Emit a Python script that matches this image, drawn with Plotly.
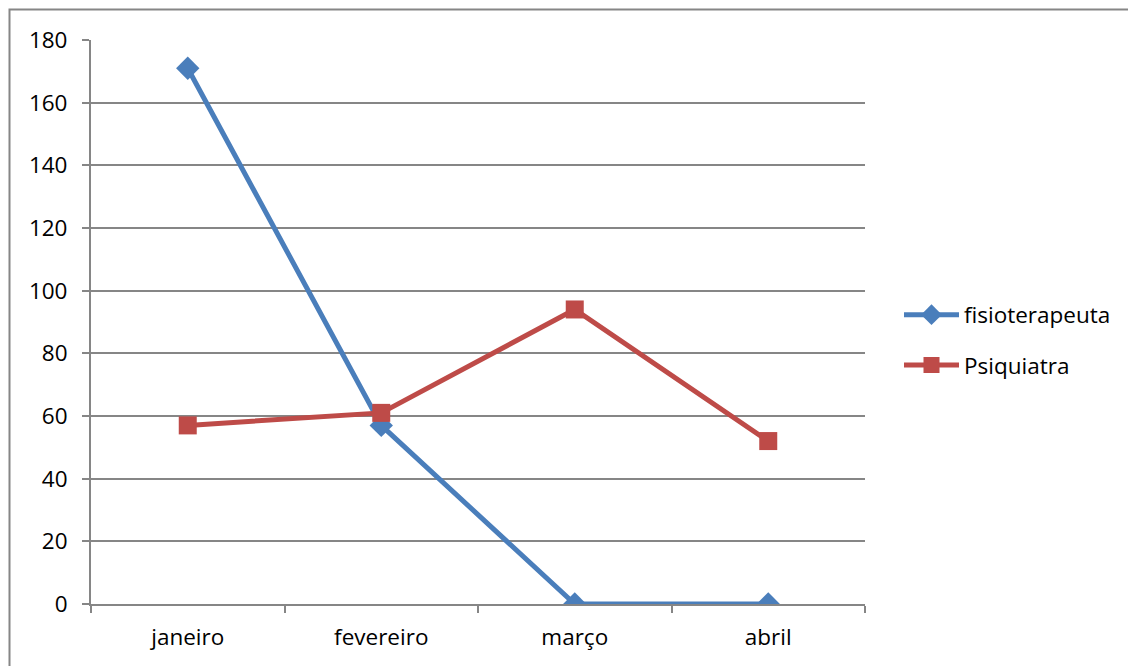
import plotly.graph_objects as go

# Monthly counts per specialty
meses = ["janeiro", "fevereiro", "março", "abril"]
fisioterapeuta = [171, 57, 0, 0]
psiquiatra = [57, 61, 94, 52]
y_ticks = [0, 20, 40, 60, 80, 100, 120, 140, 160, 180]

W, H = 1128, 666
L, R, T, B = 91, 263, 40, 62
pw, ph = W - L - R, H - T - B

def px_x(x):
    return (x - L) / pw

def px_y(y):
    return (H - B - y) / ph

fig = go.Figure()
fig.add_trace(go.Scatter(
    x=meses, y=fisioterapeuta, name="fisioterapeuta", mode="lines+markers",
    line=dict(color="#4A7EBB", width=5),
    marker=dict(symbol="diamond", size=18, color="#4A7EBB"),
    legendgroup="a",
))
fig.add_trace(go.Scatter(
    x=meses, y=psiquiatra, name="Psiquiatra", mode="lines+markers",
    line=dict(color="#BE4B48", width=5),
    marker=dict(symbol="square", size=18, color="#BE4B48"),
    legendgroup="b",
))

grid = "#868686"
fs = 22.5
fig.update_layout(
    width=W, height=H,
    margin=dict(l=L, r=R, t=T, b=B),
    paper_bgcolor="white", plot_bgcolor="white",
    font=dict(family="Open Sans, Carlito, Calibri, sans-serif", size=fs, color="#000000"),
    showlegend=True,
    legend=dict(
        x=px_x(899), y=px_y(340), xanchor="left", yanchor="middle",
        font=dict(size=fs), itemwidth=55, traceorder="grouped",
        tracegroupgap=18, bgcolor="rgba(0,0,0,0)",
    ),
    xaxis=dict(
        type="category", categoryorder="array", categoryarray=meses,
        range=[-0.5, 3.5], showgrid=False, showline=True, linecolor=grid,
        linewidth=2, ticks="outside", tickson="boundaries", ticklen=7,
        tickcolor=grid, tickwidth=2, tickfont=dict(size=fs), ticklabelstandoff=12,
        zeroline=False,
    ),
    yaxis=dict(
        range=[0, 180], tickvals=y_ticks, showgrid=True, gridcolor=grid,
        gridwidth=1.5, showline=True, linecolor=grid, linewidth=2,
        ticks="outside", ticklen=7, tickcolor=grid, tickwidth=2,
        tickfont=dict(size=fs), zeroline=False, ticklabelstandoff=10,
    ),
    shapes=[dict(
        type="rect", xref="paper", yref="paper",
        x0=px_x(9.5), y0=px_y(690), x1=px_x(1150), y1=px_y(9.5),
        line=dict(color=grid, width=2), fillcolor="rgba(0,0,0,0)", layer="below",
    )],
)

fig.write_html("out.html")
